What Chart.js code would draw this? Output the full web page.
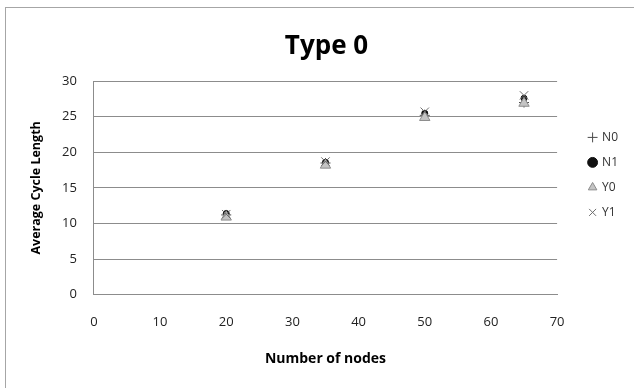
<!DOCTYPE html>
<html>
<head>
<meta charset="utf-8">
<script src="https://cdn.jsdelivr.net/npm/chart.js@4"></script>
<style>
  html, body { margin: 0; padding: 0; background: #fff; }
  #wrap { width: 634px; height: 388px; }
</style>
</head>
<body>
<div id="wrap"><canvas id="myChart"></canvas></div>
<script>
// values
const nodes = [20, 35, 50, 65];
const n0 = [11.2, 18.5, 25.2, 27.0];
const n1 = [11.4, 18.6, 25.5, 27.6];
const y0 = [10.9, 18.2, 24.9, 26.9];
const y1 = [11.3, 18.7, 25.7, 28.0];
const yTicks = [0, 5, 10, 15, 20, 25, 30];
const xTicks = [0, 10, 20, 30, 40, 50, 60, 70];

const pts = (ys) => nodes.map((x, i) => ({x: x, y: ys[i]}));

// grey frame round the chart (only top and left edges are inside the picture)
const frame = {
    id: 'frame',
    beforeDraw(chart) {
        const c = chart.ctx;
        c.save();
        c.strokeStyle = '#a6a6a6';
        c.lineWidth = 1;
        c.strokeRect(5.5, 7.5, 700, 500);
        c.restore();
    }
};

const ctx = document.getElementById('myChart');
const font = "'Open Sans', 'Liberation Sans', sans-serif";

const myChart = new Chart(ctx, {
    type: 'scatter',
    data: {
        datasets: [
            {label: 'N0', data: pts(n0), order: 3, pointStyle: 'cross', radius: 5, borderColor: '#4a4a4a', borderWidth: 1, backgroundColor: '#4a4a4a'},
            {label: 'N1', data: pts(n1), order: 4, pointStyle: 'circle', radius: 3, borderColor: '#111', borderWidth: 1, backgroundColor: '#111'},
            {label: 'Y0', data: pts(y0), order: 2, pointStyle: 'triangle', radius: 6, borderColor: '#8c8c8c', borderWidth: 1, backgroundColor: '#c4c4c4'},
            {label: 'Y1', data: pts(y1), order: 1, pointStyle: 'crossRot', radius: 6, borderColor: '#6e6e6e', borderWidth: 1, backgroundColor: '#6e6e6e'}
        ]
    },
    options: {
        responsive: true,
        maintainAspectRatio: false,
        animation: false,
        layout: {padding: {left: 25, right: 6, top: 14, bottom: 17}},
        plugins: {
            title: {
                display: true,
                text: 'Type 0',
                color: '#000',
                font: {family: font, size: 26, weight: 'bold'},
                padding: {top: 17, bottom: 19}
            },
            legend: {
                position: 'right',
                align: 'start',
                // blank title only pushes the entries down
                title: {display: true, text: ' ', font: {size: 12}, padding: {top: 45, bottom: 45}},
                labels: {
                    usePointStyle: true,
                    boxWidth: 7,
                    boxHeight: 7,
                    padding: 13,
                    color: '#333',
                    font: {family: font, size: 12},
                    sort: (a, b) => a.datasetIndex - b.datasetIndex
                }
            },
            tooltip: {enabled: false}
        },
        scales: {
            x: {
                type: 'linear',
                min: 0, max: 70,
                afterBuildTicks: (axis) => { axis.ticks = xTicks.map(v => ({value: v})); },
                grid: {display: false, drawTicks: false},
                border: {display: true, color: '#8c8c8c'},
                ticks: {color: '#222', padding: 20, font: {family: font, size: 13}},
                title: {display: true, text: 'Number of nodes', color: '#000', font: {family: font, size: 14, weight: 'bold'}, padding: {top: 0, bottom: 4}}
            },
            y: {
                min: 0, max: 30,
                afterBuildTicks: (axis) => { axis.ticks = yTicks.map(v => ({value: v})); },
                grid: {color: '#8c8c8c', drawTicks: false},
                border: {display: true, color: '#8c8c8c'},
                ticks: {color: '#222', padding: 17, font: {family: font, size: 13}},
                title: {display: true, text: 'Average Cycle Length', color: '#000', font: {family: font, size: 12.5, weight: 'bold'}, padding: {top: 4, bottom: 1}}
            },
            // empty axis on the right, only keeps a gap before the legend
            gap: {
                type: 'linear',
                position: 'right',
                min: 0, max: 30,
                grid: {display: false},
                border: {display: false},
                ticks: {display: false},
                afterFit: (scale) => { scale.width = 19; }
            }
        }
    },
    plugins: [frame]
});
</script>
</body>
</html>
